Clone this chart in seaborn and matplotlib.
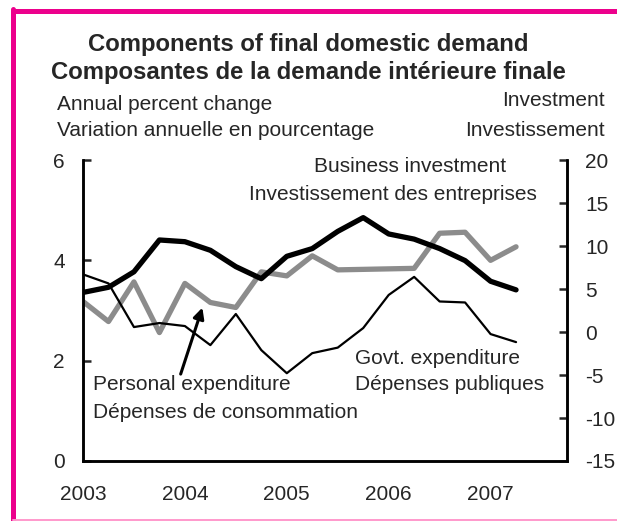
import pandas as pd
import numpy as np
import matplotlib.pyplot as plt
import matplotlib.lines as mlines
import seaborn as sns

'''                  Data                               '''
quarters = [2003.0, 2003.25, 2003.5, 2003.75, 2004.0, 2004.25, 2004.5, 2004.75,
            2005.0, 2005.25, 2005.5, 2005.75, 2006.0, 2006.25, 2006.5, 2006.75,
            2007.0, 2007.25]
# right axis (investment)
business_inv = [4.6, 5.2, 7.0, 10.7, 10.5, 9.5, 7.6, 6.2,
                8.8, 9.7, 11.7, 13.3, 11.4, 10.8, 9.7, 8.3,
                5.9, 4.9]
# left axis (annual percent change)
personal_exp = [3.18, 2.78, 3.57, 2.56, 3.54, 3.16, 3.06, 3.77,
                3.69, 4.09, 3.81, 3.82, 3.83, 3.84, 4.54, 4.56,
                4.00, 4.27]
govt_exp = [3.72, 3.54, 2.67, 2.75, 2.69, 2.31, 2.93, 2.21,
            1.75, 2.15, 2.26, 2.65, 3.31, 3.67, 3.18, 3.16,
            2.53, 2.37]
year_ticks = [2003, 2004, 2005, 2006, 2007]
left_ticks = [0, 2, 4, 6]
right_ticks = [-15, -10, -5, 0, 5, 10, 15, 20]

df = pd.DataFrame({'quarter': quarters, 'business': business_inv,
                   'personal': personal_exp, 'govt': govt_exp})

'''                  Style                              '''
sns.set_style('white')
plt.rcParams['font.family'] = ['Liberation Sans', 'DejaVu Sans']
plt.rcParams['axes.unicode_minus'] = False
FS = 15

W, H = 617, 521
fig = plt.figure(figsize=(W / 100, H / 100), dpi=100)

def fx(px):
    return px / W

def fy(py):
    return 1 - py / H

ax = fig.add_axes([fx(83), fy(461), fx(567) - fx(83), fy(160) - fy(461)])
ax2 = ax.twinx()

sns.lineplot(data=df, x='quarter', y='personal', ax=ax, color='#8c8c8c', linewidth=3.8)
sns.lineplot(data=df, x='quarter', y='govt', ax=ax, color='black', linewidth=1.6)
sns.lineplot(data=df, x='quarter', y='business', ax=ax2, color='black', linewidth=3.8)

ax.set_xlim(2003, 2007.75)
ax.set_ylim(0, 6)
ax2.set_ylim(-15, 20)
ax.set_xticks(year_ticks)
ax.set_xticklabels([str(y) for y in year_ticks])
ax.set_yticks(left_ticks)
ax2.set_yticks(right_ticks)
ax.set_xlabel('')
ax.set_ylabel('')
ax2.set_ylabel('')

for a in (ax, ax2):
    a.spines['top'].set_visible(False)
    for s in ('left', 'right', 'bottom'):
        a.spines[s].set_linewidth(1.8)
        a.spines[s].set_color('black')
ax.tick_params(axis='x', direction='in', length=6, width=1.8, pad=17, labelsize=FS)
ax.tick_params(axis='y', direction='in', length=6, width=1.8, pad=13, labelsize=FS)
ax2.tick_params(axis='y', direction='in', length=6, width=1.8, pad=13, labelsize=FS)

# arrow to personal expenditure
ax.annotate('', xy=(2004.18, 3.11), xytext=(2003.95, 1.68),
            arrowprops=dict(arrowstyle='-|>', lw=2.2, color='black', mutation_scale=16))

'''                  Text                               '''
TS = 17.2
fig.text(0.5, fy(44), 'Components of final domestic demand', ha='center', va='center',
         fontsize=TS, fontweight='bold')
fig.text(0.5, fy(73), 'Composantes de la demande intérieure finale', ha='center', va='center',
         fontsize=TS, fontweight='bold')
fig.text(fx(57), fy(104), 'Annual percent change', ha='left', va='center', fontsize=FS)
fig.text(fx(57), fy(131), 'Variation annuelle en pourcentage', ha='left', va='center', fontsize=FS)
fig.text(fx(605), fy(101), 'Investment', ha='right', va='center', fontsize=FS)
fig.text(fx(605), fy(130), 'Investissement', ha='right', va='center', fontsize=FS)
fig.text(fx(410), fy(166), 'Business investment', ha='center', va='center', fontsize=FS)
fig.text(fx(393), fy(195), 'Investissement des entreprises', ha='center', va='center', fontsize=FS)
fig.text(fx(355), fy(358), 'Govt. expenditure', ha='left', va='center', fontsize=FS)
fig.text(fx(355), fy(385), 'Dépenses publiques', ha='left', va='center', fontsize=FS)
fig.text(fx(93), fy(385), 'Personal expenditure', ha='left', va='center', fontsize=FS)
fig.text(fx(93), fy(413), 'Dépenses de consommation', ha='left', va='center', fontsize=FS)

'''                  Frame                              '''
fig.add_artist(mlines.Line2D([fx(12.5), 1], [fy(10.5), fy(10.5)], color='#ec008c', linewidth=3.6))
fig.add_artist(mlines.Line2D([fx(12.5), fx(12.5)], [fy(8.7), fy(521)], color='#ec008c', linewidth=3.6))
fig.add_artist(mlines.Line2D([fx(12.5), 1], [fy(520), fy(520)], color='#ff99cc', linewidth=1.4))

fig.savefig('out.png', dpi=100)
